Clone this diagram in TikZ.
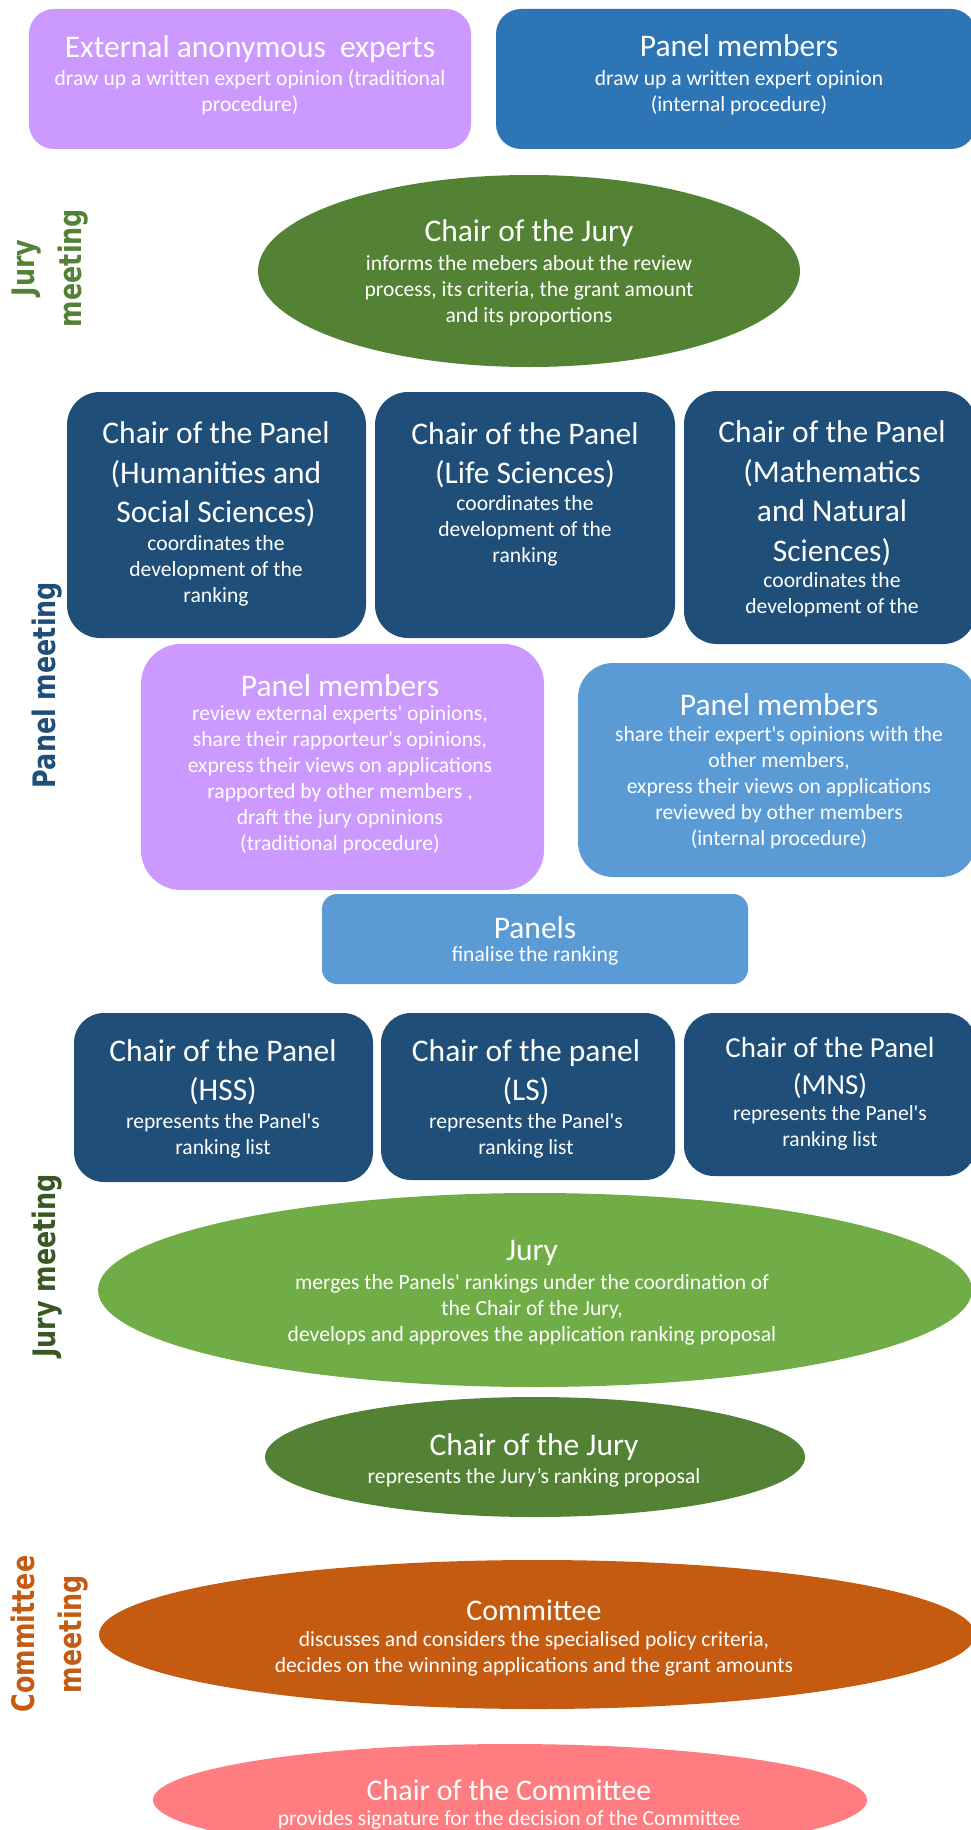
\documentclass[tikz,border=0pt]{standalone}
\usepackage{fontspec}
\setmainfont{Carlito}[Ligatures=TeXOff]
\newfontfamily\sidefont{DejaVu Sans Bold}[FakeStretch=0.82]
\usetikzlibrary{shapes.geometric}
\definecolor{purp}{HTML}{CC99FF}
\definecolor{blueA}{HTML}{2E75B6}
\definecolor{greenD}{HTML}{548235}
\definecolor{navy}{HTML}{1F4E79}
\definecolor{lblue}{HTML}{5B9BD5}
\definecolor{lgreen}{HTML}{70AD47}
\definecolor{orng}{HTML}{C55A11}
\definecolor{pink}{HTML}{FF7C80}
\definecolor{dkgreen}{HTML}{385723}
\tikzset{
  rbox/.style={rectangle, rounded corners=#1, inner sep=0pt, outer sep=0pt},
  ell/.style={ellipse, inner sep=0pt, outer sep=0pt},
  ttlt/.style={text=white, align=center, inner sep=0pt, font=\fontsize{31.5}{39.5}\selectfont},
  subt/.style={text=white, align=center, inner sep=0pt, font=\fontsize{21.6}{26}\selectfont},
  side/.style={rotate=90, align=center, inner sep=0pt, font=\sidefont\fontsize{31}{47}\selectfont},
}
\begin{document}
\begin{tikzpicture}[x=1pt,y=-1pt]
\useasboundingbox (0,0) rectangle (971,1830);
\clip (0,0) rectangle (971,1830);

% top boxes
\node[rbox=25pt, fill=purp, minimum width=442pt, minimum height=140pt] (ext) at (250,79) {};
\node[ttlt] (extT) at (250,49) {External anonymous\ \ experts};
\node[subt] (extS) at (250,92.5) {draw up a written expert opinion (traditional\\procedure)};

\node[rbox=25pt, fill=blueA, minimum width=480pt, minimum height=140pt] (pmA) at (736,79) {};
\node[ttlt] (pmAT) at (739,46) {Panel members};
\node[subt] (pmAS) at (739,92.5) {draw up a written expert opinion\\(internal procedure)};

% chair of the jury 1
\node[ell, fill=greenD, minimum width=542pt, minimum height=192pt] (cj1) at (529,271) {};
\node[ttlt] (cj1T) at (529,233) {Chair of the Jury};
\node[subt] (cj1S) at (529,291) {informs the mebers about the review\\process, its criteria, the grant amount\\and its proportions};
\node[side, text=greenD] (lab1) at (50,268) {Jury\\meeting};

% chairs of panels, row 1
\node[rbox=33pt, fill=navy, minimum width=299pt, minimum height=246pt] (c1) at (216.5,515) {};
\node[ttlt] (c1T) at (216,474.5) {Chair of the Panel\\(Humanities and\\Social Sciences)};
\node[subt] (c1S) at (216,571) {coordinates the\\development of the\\ranking};

\node[rbox=33pt, fill=navy, minimum width=300pt, minimum height=246pt] (c2) at (525,515) {};
\node[ttlt] (c2T) at (525,455) {Chair of the Panel\\(Life Sciences)};
\node[subt] (c2S) at (525,531) {coordinates the\\development of the\\ranking};

\node[rbox=33pt, fill=navy, minimum width=292pt, minimum height=253pt] (c3) at (830,517.5) {};
\node[ttlt] (c3T) at (832,493) {Chair of the Panel\\(Mathematics\\and Natural\\Sciences)};
\node[subt] (c3S) at (832,595) {coordinates the\\development of the};

\node[side, text=navy] (lab2) at (47.5,685) {Panel meeting};

% panel members
\node[rbox=40pt, fill=purp, minimum width=403pt, minimum height=246pt] (pmB) at (342.5,767) {};
\node[ttlt] (pmBT) at (340,686) {Panel members};
\node[subt] (pmBS) at (340,780) {review external experts' opinions,\\share their rapporteur's opinions,\\express their views on applications\\rapported by other members ,\\draft the jury opninions\\(traditional procedure)};

\node[rbox=35pt, fill=lblue, minimum width=398pt, minimum height=214pt] (pmC) at (777,770) {};
\node[ttlt] (pmCT) at (779,705) {Panel members};
\node[subt] (pmCS) at (779,787.5) {share their expert's opinions with the\\other members,\\express their views on applications\\reviewed by other members\\(internal procedure)};

\node[rbox=15pt, fill=lblue, minimum width=426pt, minimum height=90pt] (pan) at (535,939) {};
\node[ttlt] (panT) at (535,928) {Panels};
\node[subt] (panS) at (535,956) {finalise the ranking};

% chairs of panels, row 2
\node[rbox=30pt, fill=navy, minimum width=299pt, minimum height=169pt] (d1) at (223.5,1097.5) {};
\node[ttlt] (d1T) at (223,1072) {Chair of the Panel\\(HSS)};
\node[subt] (d1S) at (223,1136) {represents the Panel's\\ranking list};

\node[rbox=30pt, fill=navy, minimum width=294pt, minimum height=167pt] (d2) at (528,1096.5) {};
\node[ttlt] (d2T) at (526,1072) {Chair of the panel\\(LS)};
\node[subt] (d2S) at (526,1136) {represents the Panel's\\ranking list};

\node[rbox=30pt, fill=navy, minimum width=292pt, minimum height=163pt] (d3) at (830,1094.5) {};
\node[ttlt, font=\fontsize{29}{37}\selectfont] (d3T) at (830,1068) {Chair of the Panel\\(MNS)};
\node[subt] (d3S) at (830,1128) {represents the Panel's\\ranking list};

\node[side, text=dkgreen] (lab3) at (47,1266) {Jury meeting};

% jury
\node[ell, fill=lgreen, minimum width=874pt, minimum height=194pt] (jury) at (535,1290) {};
\node[ttlt] (juryT) at (532,1253) {Jury};
\node[subt] (juryS) at (532,1310) {merges the Panels' rankings under the coordination of\\the Chair of the Jury,\\develops and approves the application ranking proposal};

\node[ell, fill=greenD, minimum width=540pt, minimum height=120pt] (cj2) at (535,1457) {};
\node[ttlt] (cj2T) at (534,1447) {Chair of the Jury};
\node[subt] (cj2S) at (534,1478) {represents the Jury’s ranking proposal};

% committee
\node[side, text=orng] (lab4) at (50,1634) {Committee\\meeting};

\node[ell, fill=orng, minimum width=876pt, minimum height=149pt] (com) at (537,1634.5) {};
\node[ttlt, font=\fontsize{30}{38}\selectfont] (comT) at (534,1610) {Committee};
\node[subt] (comS) at (534,1654) {discusses and considers the specialised policy criteria,\\decides on the winning applications and the grant amounts};

\node[ell, fill=pink, minimum width=714pt, minimum height=112pt] (cc) at (510,1800) {};
\node[ttlt, font=\fontsize{30}{38}\selectfont] (ccT) at (509,1790) {Chair of the Committee};
\node[subt] (ccS) at (509,1820) {provides signature for the decision of the Committee};
\end{tikzpicture}
\end{document}
